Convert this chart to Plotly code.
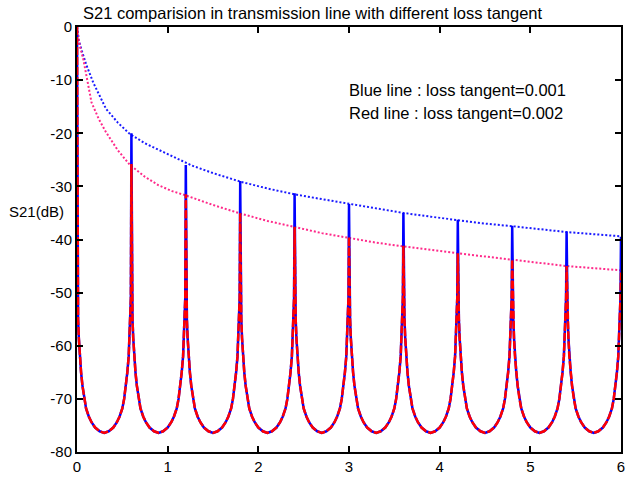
import plotly.graph_objects as go

# --- data ---
resonance_x = [0.0, 0.6, 1.2, 1.8, 2.4, 3.0, 3.6, 4.2, 4.8, 5.4, 6.0]
blue_peak_db = [0.0, -20.0, -26.0, -29.0, -31.3, -33.3, -35.0, -36.3, -37.4, -38.5, -39.5]
red_peak_db = [0.0, -25.8, -31.5, -35.0, -37.6, -39.5, -41.2, -42.6, -43.8, -45.0, -45.8]

# shape of the curve beside each resonance (distance from resonance, dB)
trough_offset = [0.006, 0.012, 0.02, 0.03, 0.045, 0.06, 0.08, 0.1, 0.13, 0.16, 0.2, 0.25, 0.3]
trough_db = [-51.0, -55.0, -58.5, -62.0, -65.0, -67.5, -70.0, -71.8, -73.3, -74.4, -75.4, -76.1, -76.4]

blue_env_x = [0, 0.02, 0.05, 0.1, 0.18, 0.25, 0.32, 0.45, 0.58, 0.75, 0.91, 1.1, 1.27, 1.5,
              1.8, 2.1, 2.4, 2.7, 3.0, 3.3, 3.6, 3.9, 4.2, 4.5, 4.8, 5.1, 5.4, 5.7, 6.0]
blue_env_db = [0, -2.5, -4.3, -7.0, -10.5, -13.0, -15.4, -18.0, -20.1, -21.9, -23.2, -24.8, -26.1, -27.5,
               -29.1, -30.4, -31.5, -32.4, -33.3, -34.1, -35.0, -35.7, -36.4, -37.0, -37.5, -38.1, -38.6, -39.0, -39.4]

red_env_x = [0, 0.03, 0.07, 0.11, 0.16, 0.24, 0.32, 0.45, 0.58, 0.75, 0.9, 1.05, 1.2, 1.5,
             1.8, 2.1, 2.4, 2.7, 3.0, 3.3, 3.6, 3.9, 4.2, 4.5, 4.8, 5.1, 5.4, 5.7, 6.0]
red_env_db = [0, -3.5, -6.1, -9.5, -14.2, -17.3, -19.8, -23.2, -25.9, -28.2, -29.8, -30.9, -31.7, -33.5,
              -35.1, -36.5, -37.7, -38.8, -39.7, -40.6, -41.3, -42.0, -42.6, -43.2, -43.8, -44.4, -45.0, -45.4, -45.8]

x_tick_vals = [0, 1, 2, 3, 4, 5, 6]
x_tick_text = ["0", "1", "2", "3", "4", "5", "6"]
y_tick_vals = [-80, -70, -60, -50, -40, -30, -20, -10, 0]
y_tick_text = ["-80", "-70", "-60", "-50", "-40", "-30", "-20", "-10", "0"]

title_text = "S21 comparision in transmission line with different loss tangent"
note_blue = "Blue line : loss tangent=0.001"
note_red = "Red line : loss tangent=0.002"
y_label = "S21(dB)"


def build(peaks):
    xs, ys = [], []
    last = len(resonance_x) - 1
    for i, (rx, pk) in enumerate(zip(resonance_x, peaks)):
        if i > 0:
            for off, db in reversed(list(zip(trough_offset[:-1], trough_db[:-1]))):
                xs.append(rx - off)
                ys.append(db)
        xs.append(rx)
        ys.append(pk)
        if i < last:
            for off, db in zip(trough_offset, trough_db):
                xs.append(rx + off)
                ys.append(db)
    return xs, ys


bx, by = build(blue_peak_db)
rx_, ry = build(red_peak_db)

FONT = "Liberation Sans, Arial, sans-serif"
TXT = 16.5
TICK = 15

fig = go.Figure()
fig.add_trace(go.Scatter(x=blue_env_x, y=blue_env_db, mode="lines",
                         line=dict(color="#1a1aff", width=2, dash="2px,2px"), showlegend=False))
fig.add_trace(go.Scatter(x=red_env_x, y=red_env_db, mode="lines",
                         line=dict(color="#ff2a8a", width=2, dash="2px,2px"), showlegend=False))
fig.add_trace(go.Scatter(x=bx, y=by, mode="lines",
                         line=dict(color="#0000ff", width=2.5), showlegend=False))
fig.add_trace(go.Scatter(x=rx_, y=ry, mode="lines",
                         line=dict(color="#ff0000", width=2.5, dash="8px,2px"), showlegend=False))

fig.update_layout(
    width=628, height=478,
    margin=dict(l=77, r=3, t=27, b=21),
    paper_bgcolor="white", plot_bgcolor="white",
    font=dict(family=FONT, size=TICK, color="black"),
    title=dict(text=title_text, x=(83 - 77) / 548, xref="paper", xanchor="left",
               y=1 - 13 / 478, yref="container", yanchor="middle",
               font=dict(family=FONT, size=TXT, color="black")),
    xaxis=dict(range=[0, 6], tickvals=x_tick_vals, ticktext=x_tick_text,
               showgrid=False, zeroline=False, showline=True, linecolor="black", linewidth=2,
               mirror="ticks", ticks="inside", ticklen=6, tickwidth=2, tickcolor="black",
               tickfont=dict(family=FONT, size=TICK, color="black")),
    yaxis=dict(range=[-80, 0], tickvals=y_tick_vals, ticktext=y_tick_text,
               showgrid=False, zeroline=False, showline=True, linecolor="black", linewidth=2,
               mirror="ticks", ticks="inside", ticklen=6, tickwidth=2, tickcolor="black",
               tickfont=dict(family=FONT, size=TICK, color="black")),
    annotations=[
        dict(text=note_blue, x=2.98, y=-11.9, xref="x", yref="y", xanchor="left", yanchor="middle",
             showarrow=False, font=dict(family=FONT, size=TXT, color="black")),
        dict(text=note_red, x=2.98, y=-16.1, xref="x", yref="y", xanchor="left", yanchor="middle",
             showarrow=False, font=dict(family=FONT, size=TXT, color="black")),
        dict(text=y_label, x=(36 - 77) / 548, y=-34.8, xref="paper", yref="y", xanchor="center",
             yanchor="middle", showarrow=False, font=dict(family=FONT, size=TICK, color="black")),
    ],
)

fig.write_html("out.html")
